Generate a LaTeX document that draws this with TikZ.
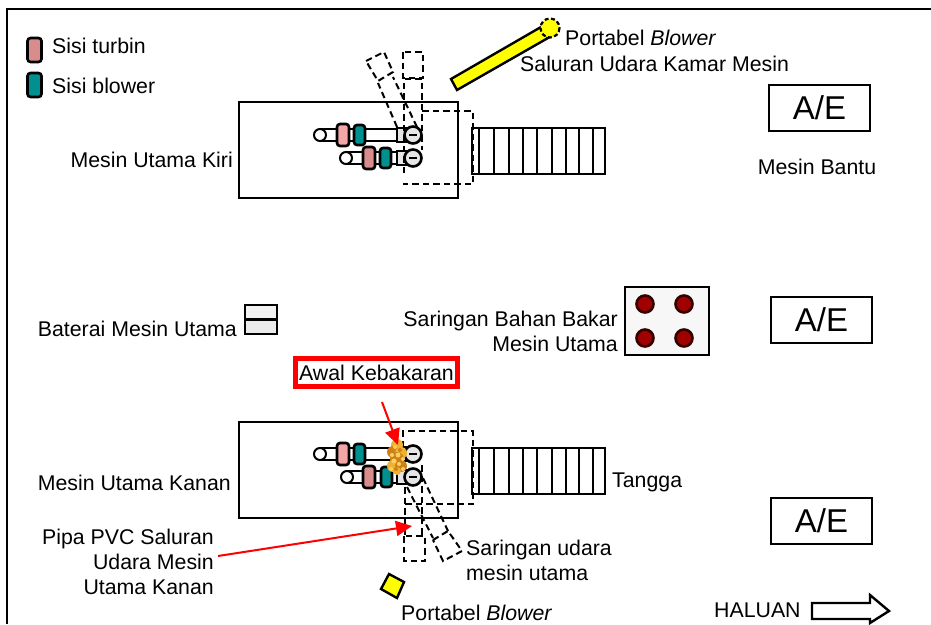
\documentclass[tikz,border=0pt]{standalone}
\usepackage{fontspec}
\setmainfont{Liberation Sans}
\usetikzlibrary{arrows.meta}
\definecolor{pinkA}{HTML}{F4A6A6}
\definecolor{pinkB}{HTML}{D98C8C}
\definecolor{tealA}{HTML}{009090}
\definecolor{fillgray}{HTML}{E6E6E6}
\definecolor{flameA}{HTML}{F0B030}
\definecolor{flameB}{HTML}{D08018}
\definecolor{flameC}{HTML}{F8D060}
\definecolor{darkred}{HTML}{A00000}
\definecolor{yel}{HTML}{FFFF00}
\tikzset{
  x=1pt,y=-1pt,
  lbl/.style={font=\fontsize{21.3}{25}\selectfont,inner sep=0pt,align=left,text=black},
  lblr/.style={lbl,align=right},
  box/.style={draw=black,line width=2pt},
  dsh/.style={draw=black,line width=2pt,dash pattern=on 6.5pt off 4pt},
  swatch/.style={draw=black,line width=2.6pt,rounded corners=3pt},
  rod/.style={draw=black,line width=2pt,fill=white},
  redarrow/.style={draw=red,line width=2pt,-{Triangle[length=16pt,width=15pt]}},
  aebox/.style={box,minimum width=101pt,minimum height=46pt,inner sep=0pt,font=\fontsize{33}{38}\selectfont},
  hole/.style={circle,draw=black!80!red,line width=2.6pt,fill=darkred,minimum size=17pt,inner sep=0pt},
}
\newcommand{\cyl}[5]{% y-centre, small circle x, pink x, teal x, pink colour
  \draw[rod] (#2,#1-6) rectangle (405,#1+6);
  \draw[rod] (#2,#1) circle (6);
  \draw[swatch,fill=#5] (#3,#1-11) rectangle (#3+12,#1+11);
  \draw[swatch,fill=tealA] (#4,#1-10) rectangle (#4+11,#1+10);
  \draw[draw=black,line width=1.6pt,fill=fillgray] (397,#1-7) rectangle (414,#1+7);
  \draw[line width=2.6pt,fill=fillgray] (413,#1) circle (8.5);
  \draw[line width=1.2pt] (409,#1) -- (417,#1);
}
\newcommand{\stairs}[1]{%
  \draw[box] (472,#1) rectangle (605,#1+45.5);
  \foreach \xx in {479,494,509,523,537,552,566,579,593}{\draw[line width=2pt] (\xx,#1) -- (\xx,#1+45.5);}
}
\begin{document}
\begin{tikzpicture}
\useasboundingbox (0,0) rectangle (931,624);
% frame
\draw[line width=2.2pt] (7,624) -- (7,9) -- (931,9);
% legend
\node[swatch,fill=pinkB,minimum width=14pt,minimum height=24pt,inner sep=0pt] (legA) at (34.5,50) {};
\node[swatch,fill=tealA,minimum width=14pt,minimum height=24pt,inner sep=0pt] (legB) at (34.5,85) {};
\node[lbl,anchor=west] (legAt) at (52,46) {Sisi turbin};
\node[lbl,anchor=west] (legBt) at (52,86) {Sisi blower};
% top engine
\node[box,minimum width=219pt,minimum height=96pt,inner sep=0pt] (engT) at (348.5,150) {};
\stairs{128}
\cyl{135}{320}{337}{354}{pinkA}
\cyl{158}{346}{363}{380}{pinkB}
\draw[dsh] (422,111) -- (473,111) -- (473,184) -- (403,184);
\draw[dsh] (404,173) -- (404,79) -- (422,79) -- (422,150);
\draw[dsh] (403,52) rectangle (423,78);
\draw[dsh] (397,127) -- (378,83) (417,127) -- (393,77);
\draw[dsh] (366,61) -- (384,52) -- (393,72) -- (378,81) -- cycle;
% yellow duct
\draw[line width=2.4pt,fill=yel] (451,79) -- (541,27) -- (548,38) -- (457,90) -- cycle;
\draw[line width=2.2pt,dash pattern=on 4pt off 2.5pt,fill=yel] (550,28) circle (9.5);
% labels top
\node[lbl,anchor=west] (portT) at (565,38) {Portabel \textit{Blower}};
\node[lbl,anchor=west] (salT) at (520,64) {Saluran Udara Kamar Mesin};
\node[lbl,anchor=east] (kiri) at (233,160) {Mesin Utama Kiri};
% A/E
\node[aebox] (ae1) at (819.5,108) {A/E};
\node[lbl] (bantu) at (817,167) {Mesin Bantu};
\node[aebox] (ae2) at (821.5,320) {A/E};
\node[aebox] (ae3) at (821.5,521) {A/E};
% battery
\draw[line width=2.4pt,fill=black!5] (245,305) rectangle (277,319);
\draw[line width=2.4pt,fill=black!8] (245,319.5) rectangle (277,334);
\node[lbl,anchor=east] (bat) at (237,329) {Baterai Mesin Utama};
% fuel filter
\node[draw=black,line width=2.6pt,fill=black!3,minimum width=84pt,minimum height=68pt,inner sep=0pt] (filt) at (667,321) {};
\node[hole] (h1) at (645,304) {};
\node[hole] (h2) at (684,304) {};
\node[hole] (h3) at (645,338) {};
\node[hole] (h4) at (684,338) {};
\node[lblr,anchor=east] (filtt) at (618,331) {Saringan Bahan Bakar\\Mesin Utama};
% red box
\node[draw=red,line width=4.4pt,minimum width=162pt,minimum height=28pt,inner sep=0pt,font=\fontsize{21.3}{25}\selectfont] (awal) at (376.5,372.5) {Awal Kebakaran};
% bottom engine
\node[box,minimum width=219pt,minimum height=96pt,inner sep=0pt] (engB) at (348.5,470) {};
\stairs{448}
\cyl{454}{320}{337}{354}{pinkA}
\cyl{477}{347}{363}{381}{pinkB}
\draw[dsh] (403,447) -- (403,431) -- (473,431) -- (473,504) -- (405,504);
\draw[dsh] (405,487) -- (405,535) (422,465) -- (422,535);
\draw[dsh] (404,536) rectangle (425,561);
\draw[dsh] (407,487) -- (433,538) (423,478) -- (448,531);
\draw[dsh] (433,540) -- (448,531) -- (462,551) -- (443,561) -- cycle;
% flames
\foreach \fx/\fy/\fr/\fc in {397/445/6/flameA,393/452/6/flameB,401/453/6/flameA,397/459/7/flameB,393/466/6/flameA,401/466/6/flameB,397/471/4/flameA,
  395/447/2/flameC,400/450/2/flameB,392/455/2/flameC,398/455/2.5/flameC,403/459/2/flameC,394/461/2.5/flameC,399/464/2/flameC,391/469/2/flameC,403/469/2/flameC,396/469/2/flameB}{
  \fill[\fc] (\fx,\fy) circle (\fr);
}
% portable blower bottom
\draw[line width=2.4pt,fill=yel] (389,574) -- (404,582) -- (397,598) -- (381,589) -- cycle;
% labels bottom
\node[lbl,anchor=east] (kanan) at (231,483) {Mesin Utama Kanan};
\node[lbl,anchor=west] (tangga) at (612,482) {Tangga};
\node[lblr,anchor=east] (pipa) at (214,562) {Pipa PVC Saluran\\Udara Mesin\\Utama Kanan};
\node[lbl,anchor=west] (sar) at (466,560) {Saringan udara\\mesin utama};
\node[lbl,anchor=west] (portB) at (401,613) {Portabel \textit{Blower}};
\node[lbl,anchor=west] (hal) at (714,610) {HALUAN};
% red arrows
\coordinate (fireTip) at (398,445);
\coordinate (pipeTip) at (412,526);
\draw[redarrow] (382,402) -- (fireTip);
\draw[redarrow] (218,556) -- (pipeTip);
% heading arrow
\draw[line width=2.4pt,fill=white] (812,603) -- (870,603) -- (870,595) -- (889,611) -- (870,623) -- (870,619) -- (812,619) -- cycle;
\end{tikzpicture}
\end{document}
